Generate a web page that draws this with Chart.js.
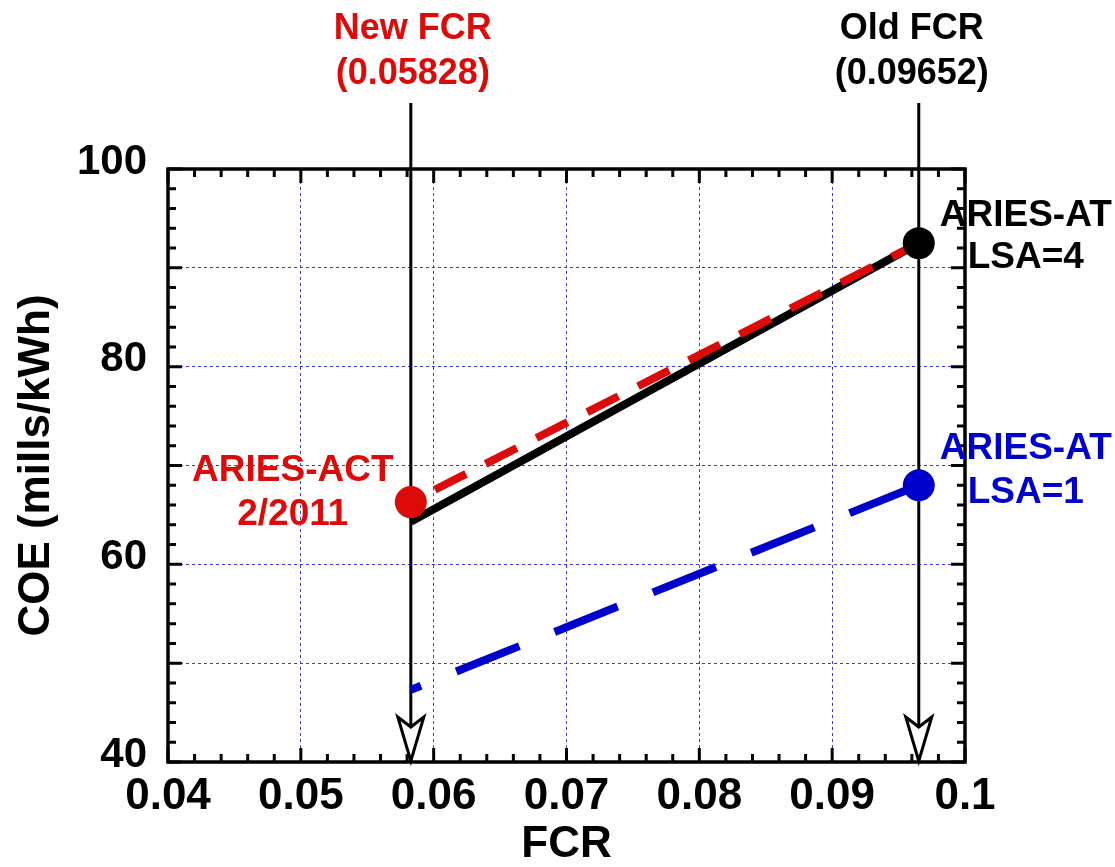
<!DOCTYPE html>
<html>
<head>
<meta charset="utf-8">
<script src="https://cdn.jsdelivr.net/npm/chart.js@4.4.1/dist/chart.umd.min.js"></script>
<style>
  html, body { margin: 0; padding: 0; background: #fff; }
  #wrap { width: 1115px; height: 867px; }
</style>
</head>
<body>
<div id="wrap"><canvas id="coeChart" width="1115" height="867"></canvas></div>
<script>
// FCR values of the two vertical markers
const markFcr = [0.05828, 0.09652];
const markTitle = ['New FCR', 'Old FCR'];
const markValue = ['(0.05828)', '(0.09652)'];

// COE lines, endpoints in FCR
const lineFcr = [0.05828, 0.09652];
const blackCoe = [64.3, 92.5];
const redCoe = [66.3, 92.5];
const blueCoe = [47.3, 68.0];

// named design points
const pointName = [['ARIES-ACT', '2/2011'], ['ARIES-AT', 'LSA=4'], ['ARIES-AT', 'LSA=1']];
const pointFcr = [0.05828, 0.09652, 0.09652];
const pointCoe = [66.3, 92.5, 68.0];

const xTicks = [0.04, 0.05, 0.06, 0.07, 0.08, 0.09, 0.1];
const yTicks = [40, 60, 80, 100];

const RED = '#dd0a0a';
const BLUE = '#0000cc';
const FONT = '"Liberation Sans", Arial, sans-serif';

function pts(xs, ys) {
  return xs.map((v, i) => ({x: v, y: ys[i]}));
}

// label placement relative to each point (pixels)
const pointStyle = [
  {color: RED, dx: -118, dy: [-21, 23]},
  {color: '#000', dx: 107, dy: [-17, 25]},
  {color: BLUE, dx: 107, dy: [-26, 18]}
];
const markStyle = [
  {color: RED, dx: 2},
  {color: '#000', dx: -7}
];

// frame with inward ticks on all four sides
const framePlugin = {
  id: 'frame',
  beforeDatasetsDraw(chart) {
    const {ctx, chartArea: a, scales: {x, y}} = chart;
    ctx.save();
    ctx.strokeStyle = '#000';
    ctx.lineWidth = 3;
    ctx.lineCap = 'butt';
    for (let i = 0; i <= 30; i++) {
      const px = x.getPixelForValue(0.04 + i * 0.002);
      const len = i % 5 === 0 ? 14 : 8;
      ctx.beginPath();
      ctx.moveTo(px, a.bottom); ctx.lineTo(px, a.bottom - len);
      ctx.moveTo(px, a.top); ctx.lineTo(px, a.top + len);
      ctx.stroke();
      const py = y.getPixelForValue(40 + i * 2);
      ctx.beginPath();
      ctx.moveTo(a.left, py); ctx.lineTo(a.left + len, py);
      ctx.moveTo(a.right, py); ctx.lineTo(a.right - len, py);
      ctx.stroke();
    }
    ctx.lineWidth = 3.5;
    ctx.strokeRect(a.left, a.top, a.right - a.left, a.bottom - a.top);

    // vertical FCR markers with open arrowheads
    ctx.lineWidth = 3;
    markFcr.forEach(v => {
      const px = x.getPixelForValue(v);
      ctx.beginPath();
      ctx.moveTo(px, 103);
      ctx.lineTo(px, a.bottom - 30);
      ctx.stroke();
      ctx.beginPath();
      ctx.moveTo(px, a.bottom - 1);
      ctx.lineTo(px - 13, a.bottom - 45);
      ctx.lineTo(px, a.bottom - 35);
      ctx.lineTo(px + 13, a.bottom - 45);
      ctx.closePath();
      ctx.fillStyle = '#fff';
      ctx.fill();
      ctx.stroke();
    });
    ctx.restore();
  },
  afterDraw(chart) {
    const {ctx, scales: {x, y}} = chart;
    ctx.save();
    ctx.textAlign = 'center';
    ctx.textBaseline = 'alphabetic';
    ctx.font = 'bold 36px ' + FONT;
    markFcr.forEach((v, i) => {
      const px = x.getPixelForValue(v) + markStyle[i].dx;
      ctx.fillStyle = markStyle[i].color;
      ctx.fillText(markTitle[i], px, 39);
      ctx.fillText(markValue[i], px, 84);
    });
    ctx.font = 'bold 37px ' + FONT;
    pointName.forEach((lines, i) => {
      const s = pointStyle[i];
      const px = x.getPixelForValue(pointFcr[i]) + s.dx;
      const py = y.getPixelForValue(pointCoe[i]);
      ctx.fillStyle = s.color;
      lines.forEach((t, k) => ctx.fillText(t, px, py + s.dy[k]));
    });
    ctx.restore();
  }
};

const data = {
  datasets: [
    {label: 'ARIES-ACT', data: pts([pointFcr[0]], [pointCoe[0]]), showLine: false,
     pointRadius: 16, pointBackgroundColor: RED, pointBorderWidth: 0},
    {label: 'ARIES-AT LSA=4', data: pts([pointFcr[1]], [pointCoe[1]]), showLine: false,
     pointRadius: 16, pointBackgroundColor: '#000', pointBorderWidth: 0},
    {label: 'ARIES-AT LSA=1', data: pts([pointFcr[2]], [pointCoe[2]]), showLine: false,
     pointRadius: 16, pointBackgroundColor: BLUE, pointBorderWidth: 0},
    {label: 'red', data: pts(lineFcr, redCoe), showLine: true, pointRadius: 0,
     borderColor: RED, borderWidth: 8, borderDash: [35, 22], borderDashOffset: 30},
    {label: 'black', data: pts(lineFcr, blackCoe), showLine: true, pointRadius: 0,
     borderColor: '#000', borderWidth: 8},
    {label: 'blue', data: pts(lineFcr, blueCoe), showLine: true, pointRadius: 0,
     borderColor: BLUE, borderWidth: 8, borderDash: [68, 38], borderDashOffset: 57}
  ]
};

const gridStyle = {color: '#3a3ae0', lineWidth: 1, drawTicks: false};

const config = {
  type: 'scatter',
  data: data,
  options: {
    responsive: false,
    animation: false,
    events: [],
    layout: {padding: {top: 169, right: 150, left: 0, bottom: 0}},
    plugins: {legend: {display: false}, tooltip: {enabled: false}},
    scales: {
      x: {
        type: 'linear', min: 0.04, max: 0.1,
        afterFit(s) { s.height = 105; },
        afterBuildTicks(s) { s.ticks = xTicks.map(v => ({value: v})); },
        grid: gridStyle,
        border: {display: false, dash: [3, 3]},
        ticks: {
          color: '#000', padding: 13, autoSkip: false, maxRotation: 0,
          font: {family: FONT, size: 44, weight: 'bold', lineHeight: 1},
          callback: v => String(parseFloat(v.toFixed(2)))
        },
        title: {display: true, text: 'FCR', color: '#000', padding: {top: 0, bottom: 0},
          font: {family: FONT, size: 44, weight: 'bold', lineHeight: 1}}
      },
      y: {
        type: 'linear', min: 40, max: 100,
        afterFit(s) { s.width = 168; },
        afterBuildTicks(s) {
          const out = [];
          for (let v = 40; v <= 100; v += 10) out.push({value: v});
          s.ticks = out;
        },
        grid: gridStyle,
        border: {display: false, dash: [3, 3]},
        ticks: {
          color: '#000', padding: 21, autoSkip: false,
          // two-line label with an empty second line lifts the number a little
          font: {family: FONT, size: 42, weight: 'bold', lineHeight: '14px'},
          callback: v => yTicks.includes(v) ? [String(v), ''] : ''
        },
        title: {display: true, text: 'COE (mills/kWh)', color: '#000', padding: {top: 15, bottom: 0},
          font: {family: FONT, size: 44, weight: 'bold', lineHeight: 1}}
      }
    }
  },
  plugins: [framePlugin]
};

const coeChart = new Chart(document.getElementById('coeChart'), config);
</script>
</body>
</html>
